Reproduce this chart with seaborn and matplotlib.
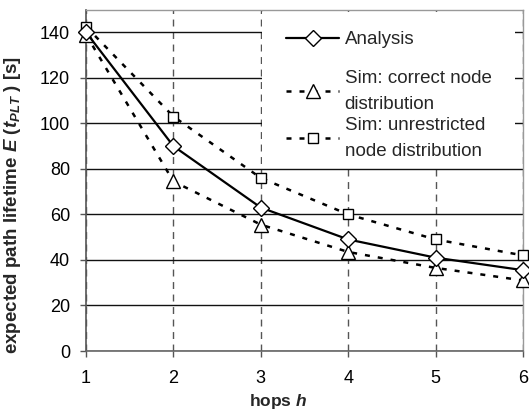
import matplotlib
matplotlib.use("Agg")
import matplotlib.pyplot as plt
import seaborn as sns
import pandas as pd
from matplotlib.patches import Rectangle
from matplotlib.lines import Line2D

hops = [1, 2, 3, 4, 5, 6]
analysis = [140, 90, 63, 49, 41, 35.5]
sim_correct = [139, 74.5, 55.5, 43.5, 36.5, 31]
sim_unrestricted = [142.5, 103, 76, 60, 49, 42]
labels = ["Analysis", "Sim: correct node\ndistribution", "Sim: unrestricted\nnode distribution"]
xticks = [1, 2, 3, 4, 5, 6]
yticks = [0, 20, 40, 60, 80, 100, 120, 140]

sns.set_style("white")
plt.rcParams['font.family'] = ['Liberation Sans', 'DejaVu Sans']
plt.rcParams['mathtext.fontset'] = 'custom'
plt.rcParams['mathtext.rm'] = 'Liberation Sans:bold'
plt.rcParams['mathtext.it'] = 'Liberation Sans:italic:bold'
plt.rcParams['mathtext.bf'] = 'Liberation Sans:bold'

W, H = 529, 416
fig = plt.figure(figsize=(W / 100, H / 100), dpi=100)
ax = fig.add_axes([86 / W, 1 - 351 / H, (523 - 86) / W, (351 - 9.5) / H])

df = pd.DataFrame({"hops": hops, "analysis": analysis,
                   "correct": sim_correct, "unres": sim_unrestricted})

lw_dash = 1.8
DASH = (2.0, 3.2)
sns.lineplot(data=df, x="hops", y="unres", ax=ax, color="black", lw=lw_dash,
             marker="s", markersize=6.5, markerfacecolor="white",
             markeredgecolor="black", markeredgewidth=1.0, clip_on=False, zorder=3)
ax.lines[-1].set_dashes(DASH)
sns.lineplot(data=df, x="hops", y="correct", ax=ax, color="black", lw=lw_dash,
             marker="^", markersize=10, markerfacecolor="white",
             markeredgecolor="black", markeredgewidth=1.0, clip_on=False, zorder=3)
ax.lines[-1].set_dashes(DASH)
sns.lineplot(data=df, x="hops", y="analysis", ax=ax, color="black", lw=1.6,
             marker="D", markersize=8, markerfacecolor="white",
             markeredgecolor="black", markeredgewidth=1.0, clip_on=False, zorder=4)

ax.set_xlim(1, 6)
ax.set_ylim(0, 150)
ax.set_xticks(xticks)
ax.set_yticks(yticks)
ax.tick_params(axis="both", labelsize=13, direction="out", length=4.5, width=1,
               color="#555555", labelcolor="black")
ax.tick_params(axis="y", pad=7, left=True)
ax.tick_params(axis="x", pad=9.5, bottom=True)

ax.set_axisbelow(True)
ax.yaxis.grid(True, color="#111111", lw=1.0, linestyle="-")
ax.xaxis.grid(True, color="#555555", lw=1.0, linestyle=(0, (5, 4)))

for side in ["top", "right"]:
    ax.spines[side].set_visible(True)
    ax.spines[side].set_color("#999999")
    ax.spines[side].set_linewidth(1.0)
ax.spines["left"].set_color("#555555")
ax.spines["left"].set_linewidth(1.2)
ax.spines["bottom"].set_color("#666666")
ax.spines["bottom"].set_linewidth(1.2)

ax.set_xlabel("hops $h$", fontsize=12.5, fontweight="bold")
ax.xaxis.set_label_coords(278 / W, 1 - 392 / H, transform=fig.transFigure)
ax.set_ylabel("expected path lifetime $E$ ($t_{PLT}$ ) [s]", fontsize=13.5,
              fontweight="bold")
ax.yaxis.set_label_coords(23 / W, 1 - 205 / H, transform=fig.transFigure)

# white legend background
ax.add_patch(Rectangle((262 / W, 1 - 166 / H), (515 - 262) / W, (166 - 12) / H,
                       transform=fig.transFigure, facecolor="white",
                       edgecolor="none", zorder=1))

h_an = Line2D([], [], color="black", lw=1.6, marker="D", markersize=8,
              markerfacecolor="white", markeredgecolor="black", markeredgewidth=1.0)
h_co = Line2D([], [], color="black", lw=lw_dash, dashes=DASH, marker="^",
              markersize=10, markerfacecolor="white", markeredgecolor="black",
              markeredgewidth=1.0)
h_un = Line2D([], [], color="black", lw=lw_dash, dashes=DASH, marker="s",
              markersize=6.5, markerfacecolor="white", markeredgecolor="black",
              markeredgewidth=1.0)

common = dict(frameon=False, fontsize=13.5, handlelength=2.85, handletextpad=0.28,
              borderpad=0, borderaxespad=0, loc="upper left",
              bbox_transform=fig.transFigure)
leg1 = ax.legend([h_an], [labels[0]], bbox_to_anchor=(286 / W, 1 - 31 / H), **common)
ax.add_artist(leg1)
leg2 = ax.legend([h_co, h_un], labels[1:], bbox_to_anchor=(286 / W, 1 - 70 / H),
                 labelspacing=0.2, **common)
for t in leg2.get_texts():
    t.set_linespacing(1.7)

fig.savefig("out.png", dpi=100)
